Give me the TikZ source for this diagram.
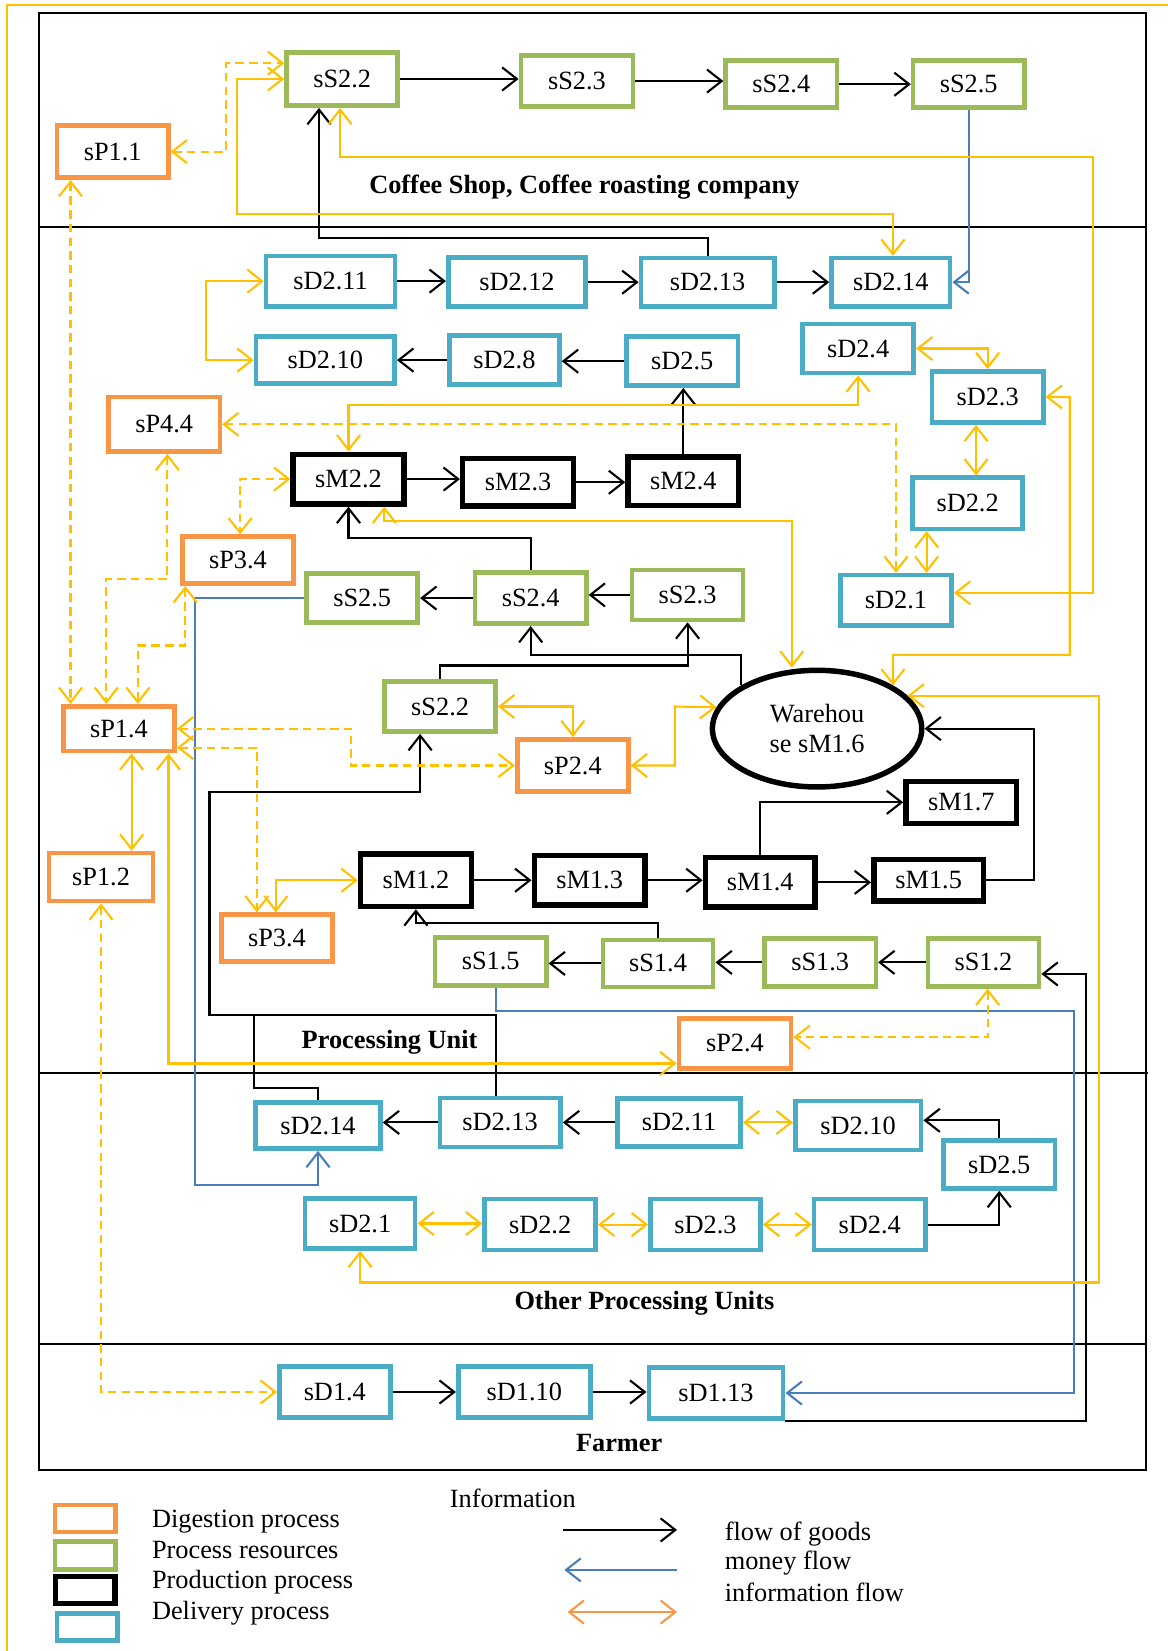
\documentclass[tikz,border=0pt]{standalone}
\usepackage{fontspec}
\setmainfont{Liberation Serif}
\usetikzlibrary{arrows.meta,shapes.geometric}
\definecolor{orC}{HTML}{F79646}
\definecolor{grC}{HTML}{9BBB59}
\definecolor{blC}{HTML}{4BACC6}
\definecolor{yeC}{HTML}{FFC000}
\definecolor{moC}{HTML}{4A7EBB}
\begin{document}
\begin{tikzpicture}[x=0.5pt,y=-0.5pt,
  font=\fontsize{12.5}{14.5}\selectfont,
  >={Straight Barb[length=7pt,width=11pt]},
  bx/.style={rectangle, inner sep=0pt, line width=2.2pt},
  ob/.style={bx, draw=orC}, gb/.style={bx, draw=grC},
  kb/.style={bx, draw=black, line width=2.6pt}, db/.style={bx, draw=blC},
  sz/.style 2 args={minimum width=#1pt, minimum height=#2pt},
  goods/.style={draw=black, line width=1pt, ->},
  money/.style={draw=moC, line width=1pt, ->},
  info/.style={draw=yeC, line width=1pt, <->},
  infod/.style={info, dash pattern=on 4pt off 2.5pt},
  lbl/.style={font=\fontsize{12.5}{14.5}\selectfont\bfseries, inner sep=0pt},
  txt/.style={inner sep=0pt},
  frm/.style={line width=1pt}]
\useasboundingbox (0,0) rectangle (1109,1568);
% frames
\draw[yeC, line width=1pt] (1109,5) -- (7,5) -- (7,1568);
\draw[frm] (37,12) rectangle (1088,1396);
\draw[frm] (37,216) -- (1088,216);
\draw[frm] (37,1019) -- (1090,1019);
\draw[frm] (37,1276) -- (1088,1276);
% top band
\node[gb, sz={52.8}{25.3}] (sSa) at (325,75) {sS2.2};
\node[gb, sz={53.3}{24.3}] (sSb) at (548,77) {sS2.3};
\node[gb, sz={52.8}{22.3}] (sSc) at (742,80) {sS2.4};
\node[gb, sz={52.8}{22.3}] (sSd) at (920,80) {sS2.5};
\node[ob, sz={52.8}{24.8}] (pPa) at (107,144) {sP1.1};
% processing band
\node[db, sz={61.3}{23.8}] (dA11) at (314,267) {sD2.11};
\node[db, sz={65.3}{23.3}] (dA12) at (491,268) {sD2.12};
\node[db, sz={63.3}{22.8}] (dA13) at (672,268) {sD2.13};
\node[db, sz={56.3}{22.8}] (dA14) at (846,268) {sD2.14};
\node[db, sz={65.8}{22.3}] (dA10) at (309,342) {sD2.10};
\node[db, sz={52.3}{23.3}] (dA8) at (479,342) {sD2.8};
\node[db, sz={52.8}{23.3}] (dA5) at (648,343) {sD2.5};
\node[db, sz={52.8}{23.3}] (dA4) at (815,331) {sD2.4};
\node[db, sz={52.8}{24.3}] (dA3) at (938,377) {sD2.3};
\node[db, sz={52.3}{24.3}] (dA2) at (919,478) {sD2.2};
\node[db, sz={52.8}{23.8}] (dA1) at (851,570) {sD2.1};
\node[ob, sz={52.8}{25.8}] (pP44) at (156,403) {sP4.4};
\node[kb, sz={52.6}{23.6}] (mM22) at (331,455) {sM2.2};
\node[kb, sz={52.6}{22.6}] (mM23) at (492,458) {sM2.3};
\node[kb, sz={52.6}{23.1}] (mM24) at (649,457) {sM2.4};
\node[ob, sz={52.8}{22.3}] (pP34a) at (226,532) {sP3.4};
\node[gb, sz={52.8}{23.3}] (sS25) at (344,568) {sS2.5};
\node[gb, sz={52.8}{24.3}] (sS24) at (504,568) {sS2.4};
\node[gb, sz={52.8}{23.8}] (sS23) at (653,565) {sS2.3};
\node[gb, sz={52.8}{23.8}] (sS22) at (418,671) {sS2.2};
\node[ob, sz={52.8}{24.8}] (pP24a) at (544,727) {sP2.4};
\node[ellipse, draw, line width=2.6pt, inner sep=0pt, minimum width=99.4pt, minimum height=55.4pt, align=center] (wh) at (776,692) {Warehou\\se sM1.6};
\node[kb, sz={52.6}{19.9}] (mM17) at (913,762) {sM1.7};
\node[ob, sz={52.8}{21.3}] (pP14) at (113,692) {sP1.4};
\node[ob, sz={49.3}{22.8}] (pP12) at (96,833) {sP1.2};
\node[ob, sz={52.8}{22.3}] (pP34b) at (263,891) {sP3.4};
\node[kb, sz={52.6}{24.9}] (mM12) at (395,836) {sM1.2};
\node[kb, sz={52.6}{23.4}] (mM13) at (560,836) {sM1.3};
\node[kb, sz={52.1}{23.4}] (mM14) at (722,838) {sM1.4};
\node[kb, sz={52.1}{19.9}] (mM15) at (882,836) {sM1.5};
\node[gb, sz={52.8}{22.8}] (sS15) at (466,913) {sS1.5};
\node[gb, sz={52.3}{22.3}] (sS14) at (625,915) {sS1.4};
\node[gb, sz={52.8}{22.8}] (sS13) at (779,914) {sS1.3};
\node[gb, sz={52.8}{22.8}] (sS12) at (934,914) {sS1.2};
\node[ob, sz={53.3}{23.8}] (pP24b) at (698,991) {sP2.4};
% other processing units
\node[db, sz={59.3}{21.8}] (oD14) at (302,1069) {sD2.14};
\node[db, sz={57.3}{23.3}] (oD13) at (475,1066) {sD2.13};
\node[db, sz={58.3}{22.8}] (oD11) at (645,1066) {sD2.11};
\node[db, sz={59.8}{23.3}] (oD10) at (815,1069) {sD2.10};
\node[db, sz={52.8}{22.8}] (oD5) at (949,1106) {sD2.5};
\node[db, sz={52.3}{23.8}] (oD1) at (342,1162) {sD2.1};
\node[db, sz={52.8}{24.3}] (oD2) at (513,1163) {sD2.2};
\node[db, sz={52.3}{24.3}] (oD3) at (670,1163) {sD2.3};
\node[db, sz={52.8}{24.3}] (oD4) at (826,1163) {sD2.4};
% farmer
\node[db, sz={52.8}{24.3}] (fD4) at (318,1322) {sD1.4};
\node[db, sz={62.8}{24.3}] (fD10) at (498,1322) {sD1.10};
\node[db, sz={63.8}{24.3}] (fD13) at (680,1323) {sD1.13};
% section labels
\node[lbl] (tCS) at (555,178) {Coffee Shop, Coffee roasting company};
\node[lbl] (tPU) at (370,990) {Processing Unit};
\node[lbl] (tOP) at (612,1238) {Other Processing Units};
\node[lbl] (tFa) at (588,1370) {Farmer};
% goods flow
\draw[goods] (sSa.east) -- (sSa.east -| sSb.west);
\draw[goods] (sSb.east) -- (sSb.east -| sSc.west);
\draw[goods] (sSc.east) -- (sSd.west);
\draw[goods] (dA13.north) |- (303,226) -- (303,0 |- sSa.south);
\draw[goods] (dA11.east) -- (dA11.east -| dA12.west);
\draw[goods] (dA12.east) -- (dA12.east -| dA13.west);
\draw[goods] (dA13.east) -- (dA13.east -| dA14.west);
\draw[goods] (dA5.west) -- (dA5.west -| dA8.east);
\draw[goods] (dA8.west) -- (dA8.west -| dA10.east);
\draw[goods] (mM24.north) -- (mM24.north |- dA5.south);
\draw[goods] (mM22.east) -- (mM22.east -| mM23.west);
\draw[goods] (mM23.east) -- (mM23.east -| mM24.west);
\draw[goods] (sS24.north) |- (331,511) -- (331,0 |- mM22.south);
\draw[goods] (sS24.west) -- (sS24.west -| sS25.east);
\draw[goods] (sS23.west) -- (sS23.west -| sS24.east);
\draw[goods] (wh.north west) |- (504,622) -- (504,0 |- sS24.south);
\draw[goods] (sS22.north) |- (653,632) -- (653,0 |- sS23.south);
\draw[goods] (mM12.east) -- (mM12.east -| mM13.west);
\draw[goods] (mM13.east) -- (mM13.east -| mM14.west);
\draw[goods] (mM14.east) -- (mM14.east -| mM15.west);
\draw[goods] (mM14.north) |- (mM17.west);
\draw[goods] (mM15.east) -| (982,692) -- (wh.east);
\draw[goods] (sS14.north) |- (395,877) -- (395,0 |- mM12.south);
\draw[goods] (sS14.west) -- (sS14.west -| sS15.east);
\draw[goods] (sS13.west) -- (sS13.west -| sS14.east);
\draw[goods] (sS12.west) -- (sS12.west -| sS13.east);
\draw[goods] (fD13.south east) -- (1031,0 |- fD13.south east) -- (1031,925) -- (sS12.east |- 0,925);
\draw[goods] (471,0 |- oD13.north) -- (471,964) -- (199,964) -- (199,752) -- (399,752) -- (399,0 |- sS22.south);
\coordinate (j1) at (241,964);
\draw[line width=1pt] (oD14.north) -- (302,1033) -- (241,1033) -- (j1);
\draw[goods] (oD13.west) -- (oD13.west -| oD14.east);
\draw[goods] (oD11.west) -- (oD11.west -| oD13.east);
\draw[goods] (oD5.north) -- (949,1064) -- (oD10.east |- 0,1064);
\draw[goods] (oD4.east) -| (oD5.south);
\draw[goods] (fD4.east) -- (fD4.east -| fD10.west);
\draw[goods] (fD10.east) -- (fD10.east -| fD13.west);
% money flow
\draw[money] (sSd.south) |- (dA14.east);
\draw[money] (sS25.west) -- (185,568) -- (185,1125) -| (oD14.south);
\draw[money] (471,0 |- sS15.south) |- (1020,960) |- (fD13.east);
% information flow (solid)
\draw[info] (323,0 |- sSa.south) -- (323,149) -| (1038,563) -- (dA1.east |- 0,563);
\draw[info] (sSa.west) -- (225,75) -- (225,203) -| (848,0 |- dA14.north);
\draw[info] (dA11.west) -- (196,267) -- (196,342) -- (dA10.west);
\draw[info] (dA4.east) -| (dA3.north);
\draw[info] (927,0 |- dA3.south) -- (927,0 |- dA2.north);
\draw[info] (880,0 |- dA2.south) -- (880,0 |- dA1.north);
\draw[info] (dA3.east) -- (1016,377) -- (1016,622) -- (848,622) -- (wh.north east);
\draw[info] (dA4.south) -- (815,385) -| (mM22.north);
\draw[info] (365,0 |- mM22.south) -- (365,495) -- (752,495) -- (752,0 |- wh.north);
\draw[info] (sS22.east) -| (pP24a.north);
\draw[info] (pP24a.east) -- (641,727) -- (641,671) -- (wh.168);
\draw[info] (125,0 |- pP14.south) -- (125,0 |- pP12.north);
\draw[info] (160,0 |- pP14.south) -- (160,1010) -- (pP24b.west |- 0,1010);
\draw[info] (262,0 |- pP34b.north) |- (mM12.west);
\draw[info] (wh.20) -| (1044,1218) -| (oD1.south);
\draw[info] (oD11.east) -- (oD11.east -| oD10.west);
\draw[info] (oD1.east) -- (oD1.east -| oD2.west);
\draw[info] (oD2.east) -- (oD2.east -| oD3.west);
\draw[info] (oD3.east) -- (oD3.east -| oD4.west);
% information flow (dashed)
\draw[infod] (pPa.east) -- (215,144) -- (215,60) -- (sSa.west |- 0,60);
\draw[infod] (67,0 |- pPa.south) -- (67,0 |- pP14.north);
\draw[infod] (pP44.east) -| (dA1.north);
\draw[infod] (159,0 |- pP44.south) -- (159,550) -- (101,550) -- (101,0 |- pP14.north);
\draw[infod] (mM22.west) -| (228,0 |- pP34a.north);
\draw[infod] (176,0 |- pP34a.south) -- (176,613) -- (131,613) -- (131,0 |- pP14.north);
\draw[infod] (pP14.east) -- (333,692) -- (333,727) -- (pP24a.west);
\draw[infod] (pP14.east |- 0,710) -- (244,710) -- (244,0 |- pP34b.north);
\draw[infod] (pP12.south) |- (fD4.west);
\draw[infod] (938,0 |- sS12.south) -- (938,985) -- (pP24b.east |- 0,985);
% legend
\node[ob, sz={28.8}{12.8}] (lgO) at (81,1442) {};
\node[gb, sz={28.8}{13.3}] (lgG) at (81,1477) {};
\node[kb, sz={28.4}{13.0}] (lgK) at (81,1510) {};
\node[db, sz={28.8}{12.8}] (lgB) at (83,1545) {};
\node[txt, anchor=base west] (lt1) at (144,1451) {Digestion process};
\node[txt, anchor=base west] (lt2) at (144,1480) {Process resources};
\node[txt, anchor=base west] (lt3) at (144,1509) {Production process};
\node[txt, anchor=base west] (lt4) at (144,1538) {Delivery process};
\node[txt, anchor=base] (lInf) at (487,1432) {Information};
\coordinate (la1) at (535,1453); \coordinate (la2) at (643,1453);
\draw[goods] (la1) -- (la2);
\coordinate (lb1) at (643,1491); \coordinate (lb2) at (536,1491);
\draw[money] (lb1) -- (lb2);
\coordinate (lc1) at (539,1531); \coordinate (lc2) at (643,1531);
\draw[info, draw=orC] (lc1) -- (lc2);
\node[txt, anchor=base west] (lf1) at (688,1463) {flow of goods};
\node[txt, anchor=base west] (lf2) at (688,1491) {money flow};
\node[txt, anchor=base west] (lf3) at (688,1521) {information flow};
\end{tikzpicture}
\end{document}
